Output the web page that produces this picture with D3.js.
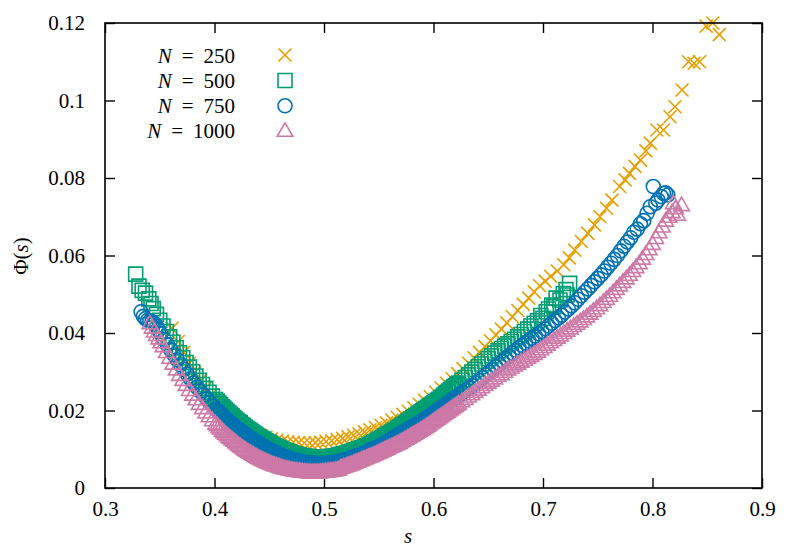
<!DOCTYPE html>
<html><head><meta charset="utf-8">
<script src="https://cdn.jsdelivr.net/npm/d3@7/dist/d3.min.js"></script>
<style>
body{margin:0;background:#fff;}
svg{display:block;}
svg text{font-family:'Liberation Serif','Times New Roman',Times,serif !important;fill:#000;}
</style></head><body>
<svg id="chart" width="805" height="551" font-family="Liberation Serif"></svg>
<script>
// ---- data ----
const sN250 = [.361,.367,.372,.377,.382,.387,.392,.397,.402,.407,.412,.417,.422,.427,.432,.437,.442,.447,.452,.457,.462,.467,.472,.477,.482,.487,.492,.497,.502,.507,.512,.517,.522,.527,.532,.537,.542,.547,.552,.557,.562,.567,.572,.577,.582,.587,.592,.597,.602,.607,.612,.617,.622,.627,.632,.637,.642,.647,.652,.657,.662,.667,.672,.677,.682,.687,.692,.697,.702,.707,.713,.719,.724,.729,.735,.741,.747,.752,.758,.763,.770,.775,.779,.784,.789,.794,.798,.804,.810,.816,.8205,.827,.833,.838,.843,.849,.855,.861];
const phiN250 = [.0412,.0378,.0350,.0322,.0298,.0277,.0258,.0240,.0223,.0208,.0195,.0182,.0170,.0160,.0151,.0143,.0136,.0131,.0127,.0124,.0121,.0119,.0118,.0117,.0116,.0116,.0117,.0118,.0120,.0122,.0125,.0128,.0132,.0136,.0140,.0145,.0150,.0156,.0162,.0168,.0175,.0182,.0190,.0198,.0207,.0216,.0226,.0236,.0247,.0258,.0270,.0282,.0295,.0308,.0322,.0336,.0350,.0365,.0380,.0395,.0410,.0426,.0442,.0458,.0474,.0490,.0506,.0522,.0534,.0546,.0560,.0576,.0594,.0614,.0636,.0657,.0679,.0700,.0722,.0743,.0778,.0795,.0812,.0830,.0846,.0870,.0890,.0924,.0924,.0958,.0984,.1027,.1100,.1096,.1100,.1192,.1200,.1170];

const sN500 = [.328,.331,.334,.337,.340,.342,.344,.347,.350,.353,.356,.359,.362,.365,.368,.371,.374,.377,.380,.383,.386,.389,.392,.395,.398,.401,.404,.407,.410,.413,.416,.419,.422,.425,.428,.431,.434,.437,.440,.443,.446,.449,.452,.455,.458,.461,.464,.467,.470,.473,.476,.479,.482,.485,.488,.491,.494,.497,.500,.503,.506,.509,.512,.515,.518,.521,.524,.527,.530,.533,.536,.539,.542,.545,.548,.551,.554,.557,.560,.563,.566,.569,.572,.575,.578,.581,.584,.587,.590,.593,.596,.599,.602,.605,.608,.611,.614,.617,.620,.623,.626,.629,.632,.635,.638,.641,.644,.647,.650,.653,.656,.659,.662,.665,.668,.671,.674,.677,.680,.683,.686,.689,.692,.695,.698,.700,.703,.705,.708,.710,.712,.7155,.7185,.721,.7243,.722,
  .4025,.4055,.4085,.4115,.4145,.4175,.4205,.4235,.4265,.4295,.4325,.4355,.4385,.4415,.4445,.4475,.4505,.4535,.4565,.4595,.4625,.4655,.4685,.4715,.4745,.4775,.4805,.4835,.4865,.4895,.4925,.4955,.4985,.5015,.5045,.5075,.5105,.5135,.5165,.5195,.5225,.5255,.5285,.5315,.5345,.5375,.5405,.5435,.5465,.5495,.5525,.5555,.5585,.5615,.5645,.5675,.5705,.5735,.5765,.5795,.5825,.5855,.5885,.5915,.5945,.5975,.6005,.6035,.6065,.6095,.6125,.6155,.6185,.6215];
const phiN500 = [.0552,.0521,.0510,.0503,.0488,.0476,.0463,.0448,.0433,.0418,.0404,.0390,.0376,.0362,.0349,.0336,.0324,.0312,.0300,.0289,.0278,.0267,.0257,.0247,.0237,.0228,.0219,.0210,.0202,.0194,.0186,.0178,.0171,.0164,.0157,.0151,.0145,.0139,.0133,.0128,.0123,.0118,.0113,.0109,.0105,.0101,.0097,.0094,.0091,.0088,.0086,.0084,.0082,.0081,.0080,.0079,.0079,.0079,.0079,.0080,.0081,.0082,.0084,.0086,.0088,.0090,.0093,.0096,.0099,.0102,.0105,.0109,.0113,.0117,.0121,.0126,.0131,.0136,.0141,.0146,.0151,.0157,.0163,.0169,.0175,.0181,.0187,.0193,.0199,.0205,.0211,.0217,.0223,.0229,.0236,.0243,.0250,.0257,.0264,.0271,.0278,.0285,.0292,.0299,.0306,.0313,.0320,.0327,.0334,.0341,.0348,.0354,.0360,.0366,.0372,.0378,.0384,.0390,.0396,.0404,.0410,.0418,.0425,.0432,.0445,.0438,.0455,.0462,.0472,.0468,.0490,.0485,.0502,.0512,.0528,.0498,
  .0224,.0215,.0206,.0198,.0190,.0182,.0175,.0168,.0161,.0154,.0148,.0142,.0136,.0131,.0126,.0121,.0116,.0111,.0107,.0103,.0099,.0096,.0093,.0090,.0087,.0085,.0083,.0082,.0081,.0080,.0079,.0079,.0079,.0080,.0081,.0082,.0083,.0085,.0087,.0089,.0092,.0095,.0098,.0101,.0104,.0107,.0111,.0115,.0119,.0124,.0129,.0134,.0139,.0144,.0149,.0154,.0160,.0166,.0172,.0178,.0184,.0190,.0196,.0202,.0208,.0214,.0220,.0226,.0233,.0240,.0247,.0254,.0261,.0268];

const sN750 = [.333,.335,.337,.339,.341,.343,.345,.347,.349,.351,.354,.357,.360,.363,.366,.369,.372,.375,.378,.381,.384,.387,.390,.393,.396,.399,.402,.405,.408,.411,.414,.417,.420,.423,.426,.429,.432,.435,.438,.441,.444,.447,.450,.453,.456,.459,.462,.465,.468,.471,.474,.477,.480,.483,.486,.489,.492,.495,.498,.501,.504,.507,.510,.513,.516,.519,.522,.525,.528,.531,.534,.537,.540,.543,.546,.549,.552,.555,.558,.561,.564,.567,.570,.573,.576,.579,.582,.585,.588,.591,.594,.597,.600,.603,.606,.609,.612,.615,.618,.621,.624,.627,.630,.633,.636,.639,.642,.645,.648,.651,.654,.657,.660,.663,.666,.669,.672,.675,.678,.681,.684,.687,.690,.693,.696,.699,.702,.705,.708,.711,.714,.717,.720,.723,.726,.729,.732,.735,.738,.741,.744,.747,.750,.753,.756,.759,.762,.765,.768,.771,.774,.777,.780,.783,.786,.789,.792,.795,.798,.8007,.803,.805,.808,.810,.812,.814,
  .4035,.4065,.4095,.4125,.4155,.4185,.4215,.4245,.4275,.4305,.4335,.4365,.4395,.4425,.4455,.4485,.4515,.4545,.4575,.4605,.4635,.4665,.4695,.4725,.4755,.4785,.4815,.4845,.4875,.4905,.4935,.4965,.4995,.5025,.5055,.5085,.5115,.5145,.5175,.5205,.5235,.5265,.5295,.5325,.5355,.5385,.5415,.5445,.5475,.5505,.5535,.5565,.5595,.5625,.5655,.5685,.5715,.5745,.5775,.5805,.5835,.5865,.5895,.5925,.5955,.5985,.6015,.6045,.6075,.6105,.6135,.6165,.6195];
const phiN750 = [.0455,.0443,.0437,.0433,.0431,.0429,.0425,.0418,.0408,.0398,.0384,.0370,.0357,.0344,.0331,.0318,.0306,.0294,.0282,.0271,.0260,.0250,.0240,.0230,.0220,.0211,.0202,.0194,.0186,.0178,.0170,.0163,.0156,.0149,.0143,.0137,.0131,.0125,.0119,.0114,.0109,.0104,.0099,.0095,.0091,.0087,.0083,.0080,.0077,.0074,.0072,.0070,.0068,.0066,.0065,.0064,.0063,.0063,.0063,.0063,.0064,.0065,.0066,.0068,.0070,.0072,.0075,.0078,.0081,.0084,.0087,.0091,.0095,.0099,.0102,.0106,.0110,.0115,.0120,.0125,.0130,.0135,.0140,.0145,.0150,.0155,.0160,.0165,.0170,.0175,.0181,.0187,.0193,.0199,.0205,.0211,.0217,.0223,.0229,.0235,.0241,.0247,.0253,.0259,.0265,.0271,.0278,.0285,.0292,.0299,.0306,.0313,.0320,.0327,.0334,.0341,.0348,.0355,.0362,.0368,.0374,.0380,.0386,.0392,.0398,.0404,.0411,.0418,.0425,.0432,.0439,.0446,.0454,.0462,.0470,.0478,.0487,.0496,.0505,.0514,.0523,.0532,.0541,.0550,.0560,.0570,.0580,.0590,.0600,.0612,.0624,.0635,.0646,.0660,.0668,.0682,.0690,.0709,.0726,.0778,.0735,.0743,.0752,.0760,.0762,.0756,
  .0198,.0190,.0182,.0174,.0167,.0160,.0153,.0146,.0140,.0134,.0128,.0122,.0117,.0112,.0107,.0102,.0097,.0093,.0089,.0085,.0082,.0079,.0076,.0073,.0071,.0069,.0067,.0066,.0065,.0064,.0063,.0063,.0063,.0064,.0065,.0066,.0067,.0069,.0071,.0074,.0077,.0080,.0083,.0086,.0089,.0093,.0097,.0101,.0104,.0108,.0113,.0118,.0123,.0128,.0133,.0138,.0143,.0148,.0153,.0158,.0163,.0168,.0173,.0178,.0184,.0190,.0196,.0202,.0208,.0214,.0220,.0226,.0232];

const sN1000 = [.341,.343,.345,.347,.349,.351,.353,.356,.359,.362,.365,.368,.371,.374,.377,.380,.383,.386,.389,.392,.395,.398,.401,.404,.407,.410,.413,.416,.419,.422,.425,.428,.431,.434,.437,.440,.443,.446,.449,.452,.455,.458,.461,.464,.467,.470,.473,.476,.479,.482,.485,.488,.491,.494,.497,.500,.503,.506,.509,.512,.515,.518,.521,.524,.527,.530,.533,.536,.539,.542,.545,.548,.551,.554,.557,.560,.563,.566,.569,.572,.575,.578,.581,.584,.587,.590,.593,.596,.599,.602,.605,.608,.611,.614,.617,.620,.623,.626,.629,.632,.635,.638,.641,.644,.647,.650,.653,.656,.659,.662,.665,.668,.671,.674,.677,.680,.683,.686,.689,.692,.695,.698,.701,.704,.707,.710,.713,.716,.719,.722,.725,.728,.731,.734,.737,.740,.743,.746,.749,.752,.755,.758,.761,.764,.767,.770,.773,.776,.779,.782,.785,.788,.791,.794,.797,.800,.803,.806,.809,.812,.815,.818,.819,.821,.8265,.823,
  .4025,.4055,.4085,.4115,.4145,.4175,.4205,.4235,.4265,.4295,.4325,.4355,.4385,.4415,.4445,.4475,.4505,.4535,.4565,.4595,.4625,.4655,.4685,.4715,.4745,.4775,.4805,.4835,.4865,.4895,.4925,.4955,.4985,.5015,.5045,.5075,.5105,.5135,.5165,.5195,.5225,.5255,.5285,.5315,.5345,.5375,.5405,.5435,.5465,.5495,.5525,.5555,.5585,.5615,.5645,.5675,.5705,.5735,.5765,.5795,.5825,.5855,.5885,.5915,.5945,.5975,.6005,.6035,.6065,.6095,.6125,.6155,.6185,.6215];
const phiN1000 = [.0425,.0414,.0404,.0395,.0386,.0376,.0366,.0351,.0336,.0321,.0306,.0292,.0279,.0266,.0253,.0241,.0229,.0217,.0206,.0195,.0185,.0175,.0166,.0157,.0148,.0140,.0132,.0125,.0118,.0111,.0105,.0099,.0093,.0088,.0083,.0078,.0074,.0070,.0066,.0062,.0059,.0056,.0053,.0051,.0049,.0047,.0045,.0044,.0043,.0042,.0041,.0041,.0041,.0041,.0041,.0042,.0043,.0044,.0045,.0047,
  .0052,.0055,.0058,.0061,.0064,.0068,.0071,.0075,.0078,.0082,.0085,.0089,.0093,.0097,.0101,.0105,.0109,.0113,.0117,.0122,.0127,.0132,.0137,.0142,.0147,.0152,.0158,.0164,.0170,.0176,.0182,.0188,.0194,.0200,.0206,.0212,.0218,.0224,.0230,.0236,.0242,.0248,.0254,.0260,.0266,.0272,.0277,.0283,.0289,.0294,.0300,.0306,.0311,.0316,.0321,.0326,.0331,.0336,.0341,.0346,.0352,.0358,
  .0364,.0370,.0376,.0382,.0388,.0394,.0400,.0406,.0412,.0418,.0424,.0430,.0436,.0443,.0450,.0457,.0464,.0472,.0480,.0488,.0496,.0505,.0514,.0523,.0532,.0541,.0550,.0560,.0570,.0580,.0592,.0604,.0616,.0630,.0645,.0660,.0675,.0690,.0700,.0712,.0735,.0722,.0730,.0705,
  .0162,.0153,.0144,.0136,.0129,.0122,.0115,.0108,.0102,.0096,.0091,.0086,.0081,.0076,.0072,.0068,.0064,.0061,.0058,.0055,.0052,.0050,.0048,.0046,.0045,.0044,.0043,.0042,.0041,.0041,.0041,.0041,.0042,.0043,.0044,.0045,.0046,.0048,
  .0053,.0056,.0059,.0062,.0066,.0069,.0073,.0076,.0080,.0083,.0087,.0091,.0095,.0099,.0103,.0107,.0111,.0115,.0120,.0125,.0130,.0135,.0140,.0145,.0150,.0155,.0161,.0167,.0173,.0179,.0185,.0191,.0197,.0203,.0209,.0215];

const seriesNames = ["250", "500", "750", "1000"];
const seriesColors = ["#E69F00", "#009E73", "#0072B2", "#CC79A7"];
const seriesShapes = ["cross", "square", "circle", "triangle"];
const xTicks = [0.3, 0.4, 0.5, 0.6, 0.7, 0.8, 0.9];
const xTickLabels = ["0.3", "0.4", "0.5", "0.6", "0.7", "0.8", "0.9"];
const yTicks = [0, 0.02, 0.04, 0.06, 0.08, 0.1, 0.12];
const yTickLabels = ["0", "0.02", "0.04", "0.06", "0.08", "0.1", "0.12"];

// ---- layout ----
const L = 105, R = 762, T = 23, B = 488;
const FONT = "Liberation Serif";
const svg = d3.select("#chart");
const x = d3.scaleLinear().domain([0.3, 0.9]).range([L, R]);
const y = d3.scaleLinear().domain([0, 0.12]).range([B, T]);

const FS = 21;
const axG = svg.append("g").attr("class", "axes");
function styleAxis(g) {
  g.attr("font-family", FONT).attr("font-size", FS);
  g.select(".domain").remove();
  g.selectAll(".tick line").attr("stroke", "#000").attr("stroke-width", 1.4);
  g.selectAll(".tick text").attr("font-family", FONT).attr("font-size", FS).attr("fill", "#000");
}
axG.append("g").attr("transform", `translate(0,${B})`)
  .call(d3.axisBottom(x).tickValues(xTicks).tickFormat((d, i) => xTickLabels[i]).tickSize(-10).tickPadding(13))
  .call(styleAxis);
axG.append("g").attr("transform", `translate(0,${T})`)
  .call(d3.axisTop(x).tickValues(xTicks).tickFormat("").tickSize(-10))
  .call(styleAxis);
axG.append("g").attr("transform", `translate(${L},0)`)
  .call(d3.axisLeft(y).tickValues(yTicks).tickFormat((d, i) => yTickLabels[i]).tickSize(-10).tickPadding(20))
  .call(styleAxis);
axG.append("g").attr("transform", `translate(${R},0)`)
  .call(d3.axisRight(y).tickValues(yTicks).tickFormat("").tickSize(-10))
  .call(styleAxis);

// ---- markers ----
function markerPath(shape) {
  if (shape === "cross") return "M-6.5,-6.5L6.5,6.5M6.5,-6.5L-6.5,6.5";
  if (shape === "square") return "M-7,-7H7V7H-7Z";
  if (shape === "circle") return "M7,0A7,7 0 1,1 -7,0A7,7 0 1,1 7,0Z";
  return "M0,-8L7.8,5.5L-7.8,5.5Z";
}
const data = [
  sN250.map((s, i) => [s, phiN250[i]]),
  sN500.map((s, i) => [s, phiN500[i]]),
  sN750.map((s, i) => [s, phiN750[i]]),
  sN1000.map((s, i) => [s, phiN1000[i]])
];
const plotG = svg.append("g");
data.forEach((pts, k) => {
  plotG.append("g").selectAll("path").data(pts).join("path")
    .attr("d", markerPath(seriesShapes[k]))
    .attr("transform", d => `translate(${x(d[0])},${y(d[1])})`)
    .attr("fill", "none")
    .attr("stroke", seriesColors[k])
    .attr("stroke-width", 1.6);
});

// frame
svg.append("rect").attr("x", L).attr("y", T).attr("width", R - L).attr("height", B - T)
  .attr("fill", "none").attr("stroke", "#000").attr("stroke-width", 1.6);

// ---- legend ----
const legRows = [55, 80.5, 105.8, 130.8];
const leg = svg.append("g");
seriesNames.forEach((n, k) => {
  const t = leg.append("text").attr("x", 235).attr("y", legRows[k] + 7.5)
    .attr("text-anchor", "end").attr("font-family", FONT).attr("font-size", FS);
  t.append("tspan").attr("font-style", "italic").text("N");
  t.append("tspan").attr("dx", 10).text("=");
  t.append("tspan").attr("dx", 10).text(n);
  leg.append("path").attr("d", markerPath(seriesShapes[k]))
    .attr("transform", `translate(285,${legRows[k]})`)
    .attr("fill", "none").attr("stroke", seriesColors[k]).attr("stroke-width", 1.6);
});

// ---- axis titles ----
svg.append("text").attr("x", 408).attr("y", 543).attr("text-anchor", "middle")
  .attr("font-family", FONT).attr("font-size", FS).attr("font-style", "italic").text("s");
const yl = svg.append("text").attr("transform", "translate(28,256) rotate(-90)")
  .attr("text-anchor", "middle").attr("font-family", FONT).attr("font-size", FS);
yl.append("tspan").text("Φ(");
yl.append("tspan").attr("font-style", "italic").text("s");
yl.append("tspan").text(")");
</script>
</body></html>
